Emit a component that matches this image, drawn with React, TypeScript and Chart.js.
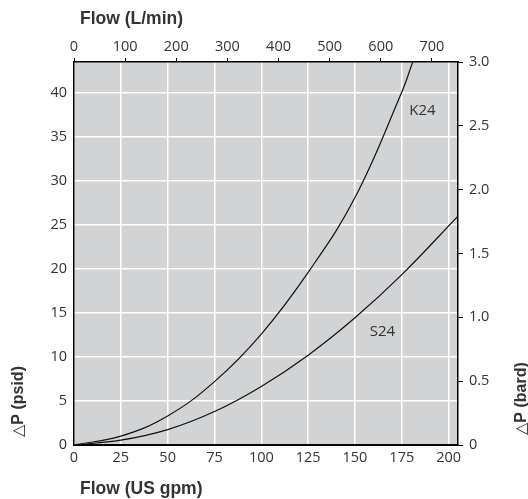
import React, { useEffect, useRef } from 'react';
import { Chart, registerables } from 'chart.js';

Chart.register(...registerables);

// Tick labels
const gpmTicks = [0, 25, 50, 75, 100, 125, 150, 175, 200];
const lpmTicks = [0, 100, 200, 300, 400, 500, 600, 700];
const psiTicks = [0, 5, 10, 15, 20, 25, 30, 35, 40];
const barTicks = [0, 0.5, 1, 1.5, 2, 2.5, 3];

// Axis ranges
const gpmMax = 205;
const lpmMax = 751;
const psiMax = 43.5;
const barMax = 3;

// Series: flow (US gpm) vs pressure drop (psid)
const k24Gpm = [0, 25, 50, 75, 100, 125, 150, 175, 181];
const k24Psi = [0, 1.0, 3.3, 7.2, 12.6, 19.6, 28.1, 40.1, 43.6];
const s24Gpm = [0, 25, 50, 75, 100, 125, 150, 175, 205];
const s24Psi = [0, 0.55, 1.75, 3.8, 6.65, 10.2, 14.45, 19.35, 26.0];

// Curve label anchors (gpm, psid)
const curveLabels = [
  { text: 'K24', x: 186, y: 38 },
  { text: 'S24', x: 164.7, y: 12.9 },
];

const TICK_FONT = '"Open Sans", "Noto Sans", "DejaVu Sans", sans-serif';
const TITLE_FONT = '"Liberation Sans", Arial, "DejaVu Sans", sans-serif';
const TEXT = '#333333';

export default function App() {
  const ref = useRef<HTMLCanvasElement | null>(null);

  useEffect(() => {
    document.body.style.margin = '0';
    const canvas = ref.current;
    if (!canvas) return;

    const bgPlugin = {
      id: 'plotBg',
      beforeDraw(chart: any) {
        const { ctx, chartArea: a } = chart;
        ctx.save();
        ctx.fillStyle = '#d2d3d5';
        ctx.fillRect(a.left, a.top, a.right - a.left, a.bottom - a.top);
        ctx.restore();
      },
    };

    const textPlugin = {
      id: 'texts',
      afterDraw(chart: any) {
        const { ctx, chartArea: a, scales } = chart;
        ctx.save();
        ctx.fillStyle = TEXT;
        ctx.font = `15px ${TICK_FONT}`;
        ctx.textAlign = 'center';
        ctx.textBaseline = 'middle';
        for (const l of curveLabels) {
          ctx.fillText(l.text, scales.x.getPixelForValue(l.x), scales.y.getPixelForValue(l.y));
        }
        ctx.font = `bold 17.5px ${TITLE_FONT}`;
        ctx.textAlign = 'left';
        ctx.textBaseline = 'alphabetic';
        ctx.fillText('Flow (L/min)', a.left + 6, 24);
        ctx.fillText('Flow (US gpm)', a.left + 6, 494);
        ctx.font = `bold 16px ${TITLE_FONT}`;
        ctx.save();
        ctx.translate(23, 437);
        ctx.rotate(-Math.PI / 2);
        ctx.fillText('\u25B3P (psid)', 0, 0);
        ctx.restore();
        ctx.save();
        ctx.translate(526, 435);
        ctx.rotate(-Math.PI / 2);
        ctx.fillText('\u25B3P (bard)', 0, 0);
        ctx.restore();
        ctx.restore();
      },
    };

    const tickFont = { family: TICK_FONT, size: 14.5 };

    const lineStyle = {
      borderColor: '#111111',
      borderWidth: 1.2,
      pointRadius: 0,
      tension: 0.4,
      fill: false,
      xAxisID: 'x',
      yAxisID: 'y',
    };

    const chart = new Chart(canvas, {
      type: 'line',
      data: {
        datasets: [
          { label: 'K24', data: k24Gpm.map((x, i) => ({ x, y: k24Psi[i] })), ...lineStyle },
          { label: 'S24', data: s24Gpm.map((x, i) => ({ x, y: s24Psi[i] })), ...lineStyle },
        ],
      },
      options: {
        responsive: false,
        animation: false,
        layout: { padding: 0 },
        plugins: {
          legend: { display: false },
          tooltip: { enabled: false },
        },
        scales: {
          x: {
            type: 'linear',
            position: 'bottom',
            min: 0,
            max: gpmMax,
            afterBuildTicks: (s: any) => {
              s.ticks = gpmTicks.map((v) => ({ value: v }));
            },
            afterFit: (s: any) => {
              s.height = 54;
            },
            grid: { color: '#ffffff', lineWidth: 1.5, drawTicks: false },
            border: { color: '#000000', width: 2 },
            ticks: { color: TEXT, font: tickFont, padding: 4, maxRotation: 0, autoSkip: false },
          },
          x2: {
            type: 'linear',
            position: 'top',
            min: 0,
            max: lpmMax,
            afterBuildTicks: (s: any) => {
              s.ticks = lpmTicks.map((v) => ({ value: v }));
            },
            afterFit: (s: any) => {
              s.height = 62;
            },
            grid: { drawOnChartArea: false, color: '#000000', tickLength: 4, lineWidth: 1 },
            border: { color: '#000000', width: 1.5 },
            ticks: { color: TEXT, font: tickFont, padding: 2, maxRotation: 0, autoSkip: false },
          },
          y: {
            type: 'linear',
            position: 'left',
            min: 0,
            max: psiMax,
            afterBuildTicks: (s: any) => {
              s.ticks = psiTicks.map((v) => ({ value: v }));
            },
            afterFit: (s: any) => {
              s.width = 74;
            },
            grid: { color: '#ffffff', lineWidth: 1.5, drawTicks: false },
            border: { color: '#000000', width: 1.5 },
            ticks: { color: TEXT, font: tickFont, padding: 7, autoSkip: false },
          },
          y2: {
            type: 'linear',
            position: 'right',
            min: 0,
            max: barMax,
            afterBuildTicks: (s: any) => {
              s.ticks = barTicks.map((v) => ({ value: v }));
            },
            afterFit: (s: any) => {
              s.width = 70;
            },
            grid: { drawOnChartArea: false, color: '#000000', tickLength: 5, lineWidth: 1 },
            border: { color: '#000000', width: 1.5 },
            ticks: {
              color: TEXT,
              font: tickFont,
              padding: 6,
              autoSkip: false,
              callback: (v: any) => (Number(v) === 0 ? '0' : Number(v).toFixed(1)),
            },
          },
        },
      },
      plugins: [bgPlugin, textPlugin],
    } as any);

    return () => chart.destroy();
  }, []);

  return (
    <div style={{ width: 528, height: 499 }}>
      <canvas ref={ref} width={528} height={499} style={{ display: 'block', width: 528, height: 499 }} />
    </div>
  );
}
